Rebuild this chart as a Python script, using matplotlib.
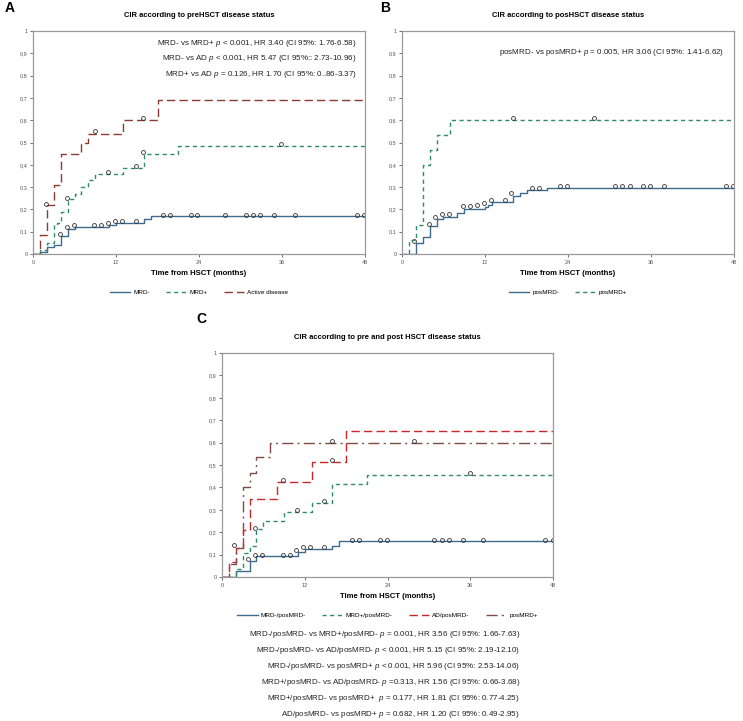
import matplotlib
matplotlib.use("Agg")
import matplotlib.pyplot as plt
from matplotlib.ticker import FuncFormatter

plt.rcParams["font.family"] = ["Liberation Sans", "DejaVu Sans"]
plt.rcParams["mathtext.fontset"] = "custom"
plt.rcParams["mathtext.it"] = "Liberation Sans:italic"
plt.rcParams["mathtext.rm"] = "Liberation Sans"

# ---------------- data (months, cumulative incidence) ----------------
# Panel A: pre-HSCT status
a_mrdneg_t = [0, 1, 2, 3, 4, 5, 6, 11, 12, 16, 17, 48]
a_mrdneg_y = [0, 0.01, 0.03, 0.04, 0.08, 0.11, 0.12, 0.13, 0.14, 0.155, 0.17, 0.17]
a_mrdneg_ct = [3.9, 4.9, 5.9, 8.8, 9.8, 10.9, 11.8, 12.9, 14.9, 18.8, 19.8, 22.8, 23.7,
               27.8, 30.8, 31.8, 32.8, 34.8, 37.8, 46.8, 47.8]
a_mrdneg_cy = [0.085, 0.115, 0.125, 0.125, 0.125, 0.135, 0.145, 0.145, 0.145] + [0.172] * 12

a_mrdpos_t = [0, 1, 2, 3, 3.5, 4, 5, 6, 7, 8, 9, 13, 16, 21, 48]
a_mrdpos_y = [0, 0.02, 0.05, 0.13, 0.14, 0.19, 0.245, 0.27, 0.30, 0.33, 0.36, 0.385, 0.45, 0.485, 0.485]
a_mrdpos_ct = [4.9, 10.85, 14.9, 15.9, 35.8]
a_mrdpos_cy = [0.245, 0.362, 0.39, 0.455, 0.49]

a_ad_t = [0, 1, 2, 3, 4, 7, 8, 13, 18, 48]
a_ad_y = [0, 0.085, 0.22, 0.31, 0.45, 0.50, 0.54, 0.60, 0.69, 0.69]
a_ad_ct = [1.9, 8.9, 15.9]
a_ad_cy = [0.222, 0.547, 0.605]

# Panel B: post-HSCT status
b_neg_t = [0, 2, 3, 4, 5, 6, 8, 9, 12, 12.5, 13, 16, 17, 18, 21, 48]
b_neg_y = [0, 0.05, 0.075, 0.125, 0.155, 0.165, 0.185, 0.20, 0.21, 0.22, 0.235, 0.26,
           0.275, 0.285, 0.295, 0.295]
b_neg_ct = [1.8, 3.9, 4.8, 5.8, 6.8, 8.8, 9.9, 10.9, 11.9, 12.8, 14.9, 15.8, 18.8, 19.8,
            22.9, 23.8, 30.8, 31.8, 32.9, 34.8, 35.8, 37.9, 46.8, 47.9]
b_neg_cy = [0.055, 0.13, 0.16, 0.175, 0.175, 0.21, 0.21, 0.215, 0.225, 0.24, 0.24, 0.27,
            0.29, 0.29] + [0.30] * 10

b_pos_t = [0, 1, 2, 3, 4, 5, 7, 48]
b_pos_y = [0, 0.065, 0.13, 0.40, 0.465, 0.535, 0.60, 0.60]
b_pos_ct = [16.0, 27.8]
b_pos_cy = [0.605, 0.605]

# Panel C: combined pre/post status
c_nn_t = [0, 2, 4, 5, 11, 12, 16, 17, 48]
c_nn_y = [0, 0.025, 0.07, 0.095, 0.11, 0.125, 0.14, 0.16, 0.16]
c_nn_ct = [3.8, 4.8, 5.8, 8.8, 9.9, 10.8, 11.8, 12.8, 14.8, 18.8, 19.9, 22.9, 23.9,
           30.8, 31.9, 32.9, 34.9, 37.8, 46.9, 48.0]
c_nn_cy = [0.075, 0.095, 0.095, 0.095, 0.095, 0.115, 0.13, 0.13, 0.13] + [0.162] * 11

c_pn_t = [0, 2, 3, 4, 5, 6, 9, 13, 16, 21, 48]
c_pn_y = [0, 0.035, 0.105, 0.14, 0.215, 0.25, 0.29, 0.33, 0.415, 0.455, 0.455]
c_pn_ct = [4.8, 10.9, 14.8, 35.9]
c_pn_cy = [0.217, 0.295, 0.335, 0.462]

c_ad_t = [0, 1, 2, 3, 4, 8, 13, 18, 48]
c_ad_y = [0, 0.065, 0.13, 0.21, 0.35, 0.425, 0.515, 0.65, 0.65]
c_ad_ct = [1.8, 8.8, 15.9]
c_ad_cy = [0.14, 0.43, 0.52]

c_pos_t = [0, 1, 2, 3, 4, 5, 7, 48]
c_pos_y = [0, 0.06, 0.13, 0.40, 0.465, 0.535, 0.60, 0.60]
c_pos_ct = [15.9, 27.9]
c_pos_cy = [0.605, 0.605]

a_stats = ["MRD- vs MRD+ $\\it{p}$ < 0.001, HR 3.40 (CI 95%: 1.76-6.58)",
           "MRD- vs AD $\\it{p}$ < 0.001, HR 5.47 (CI 95%:: 2.73-10.96)",
           "MRD+ vs AD $\\it{p}$ = 0.126, HR 1.70 (CI 95%: 0..86-3.37)"]
b_stats = ["posMRD- vs posMRD+ $\\it{p}$ = 0.005, HR 3.06 (CI 95%: 1.41-6.62)"]
c_stats = ["MRD-/posMRD- vs MRD+/posMRD- $\\it{p}$ = 0.001, HR 3.56 (CI 95%: 1.66-7.63)",
           "MRD-/posMRD- vs AD/posMRD- $\\it{p}$ < 0.001, HR 5.15 (CI 95%: 2.19-12.10)",
           "MRD-/posMRD- vs posMRD+ $\\it{p}$ < 0.001, HR 5.96 (CI 95%: 2.53-14.06)",
           "MRD+/posMRD- vs AD/posMRD- $\\it{p}$ =0.313, HR 1.56 (CI 95%: 0.66-3.68)",
           "MRD+/posMRD- vs posMRD+  $\\it{p}$ = 0.177, HR 1.81 (CI 95%: 0.77-4.25)",
           "AD/posMRD- vs posMRD+ $\\it{p}$ = 0.682, HR 1.20 (CI 95%: 0.49-2.95)"]

BLUE = "#3d6b8c"
GREEN = "#2f8a66"
BROWN = "#8a3a30"
RED = "#c8282a"
DDOT = "#7d4c46"

fig = plt.figure(figsize=(7.43, 7.21), dpi=100)
axA = fig.add_axes([0.0444, 0.6477, 0.447, 0.3093])
axB = fig.add_axes([0.541, 0.6477, 0.447, 0.3093])
axC = fig.add_axes([0.2988, 0.1997, 0.4455, 0.3107])


def style(ax, title):
    ax.set_xlim(0, 48)
    ax.set_ylim(0, 1)
    ax.set_xticks([0, 12, 24, 36, 48])
    ax.set_yticks([i / 10 for i in range(11)])
    ax.yaxis.set_major_formatter(FuncFormatter(lambda v, p: "0" if v == 0 else ("1" if v == 1 else f"{v:.1f}".replace(".", ","))))
    ax.tick_params(labelsize=4, colors="#555555", length=2, width=0.6, pad=2)
    for s in ax.spines.values():
        s.set_color("#9a9a9a")
        s.set_linewidth(0.9)
    ax.set_title(title, fontsize=5.5, fontweight="bold", pad=10)
    ax.set_xlabel("Time from HSCT (months)", fontsize=5.6, fontweight="bold", labelpad=4)


def curve(ax, t, y, ct, cy, color, dashes, label):
    ln, = ax.step(t, y, where="post", color=color, lw=1.0, label=label)
    if dashes:
        ln.set_dashes(dashes)
    ax.plot(ct, [v + 0.004 for v in cy], "o", ms=2.8, mfc="none", mec="#333333", mew=0.6)


curve(axA, a_mrdneg_t, a_mrdneg_y, a_mrdneg_ct, a_mrdneg_cy, BLUE, None, "MRD-")
curve(axA, a_mrdpos_t, a_mrdpos_y, a_mrdpos_ct, a_mrdpos_cy, GREEN, (3, 2.5), "MRD+")
curve(axA, a_ad_t, a_ad_y, a_ad_ct, a_ad_cy, BROWN, (6, 3), "Active disease")
style(axA, "CIR according to preHSCT disease status")

curve(axB, b_neg_t, b_neg_y, b_neg_ct, b_neg_cy, BLUE, None, "posMRD-")
curve(axB, b_pos_t, b_pos_y, b_pos_ct, b_pos_cy, GREEN, (3, 2.5), "posMRD+")
style(axB, "CIR according to posHSCT disease status")

curve(axC, c_nn_t, c_nn_y, c_nn_ct, c_nn_cy, BLUE, None, "MRD-/posMRD-")
curve(axC, c_pn_t, c_pn_y, c_pn_ct, c_pn_cy, GREEN, (3, 2.5), "MRD+/posMRD-")
curve(axC, c_ad_t, c_ad_y, c_ad_ct, c_ad_cy, RED, (6, 3), "AD/posMRD-")
curve(axC, c_pos_t, c_pos_y, c_pos_ct, c_pos_cy, DDOT, (8, 3, 1.5, 3), "posMRD+")
style(axC, "CIR according to pre and post HSCT disease status")

for ax, n in [(axA, 3), (axB, 2), (axC, 4)]:
    ax.legend(loc="upper center", bbox_to_anchor=(0.5, -0.135), ncol=n, frameon=False,
              fontsize=4.6, handlelength=3.2, columnspacing=2.5, handletextpad=0.5)

for i, s in enumerate(a_stats):
    axA.text(0.975, 0.943 - i * 0.068, s, transform=axA.transAxes, ha="right", va="center",
             fontsize=5.8, color="#222222")
for s in b_stats:
    axB.text(0.97, 0.905, s, transform=axB.transAxes, ha="right", va="center",
             fontsize=5.8, color="#222222")
for i, s in enumerate(c_stats):
    fig.text(520 / 743, 1 - (635 + i * 15.8) / 721, s, ha="right", va="center",
             fontsize=5.8, color="#222222")

fig.text(5 / 743, 1 - 8 / 721, "A", fontsize=10, fontweight="bold", va="center")
fig.text(380 / 743, 1 - 8 / 721, "B", fontsize=10, fontweight="bold", va="center")
fig.text(196 / 743, 1 - 319 / 721, "C", fontsize=10, fontweight="bold", va="center")

fig.savefig("out.png", dpi=100)
